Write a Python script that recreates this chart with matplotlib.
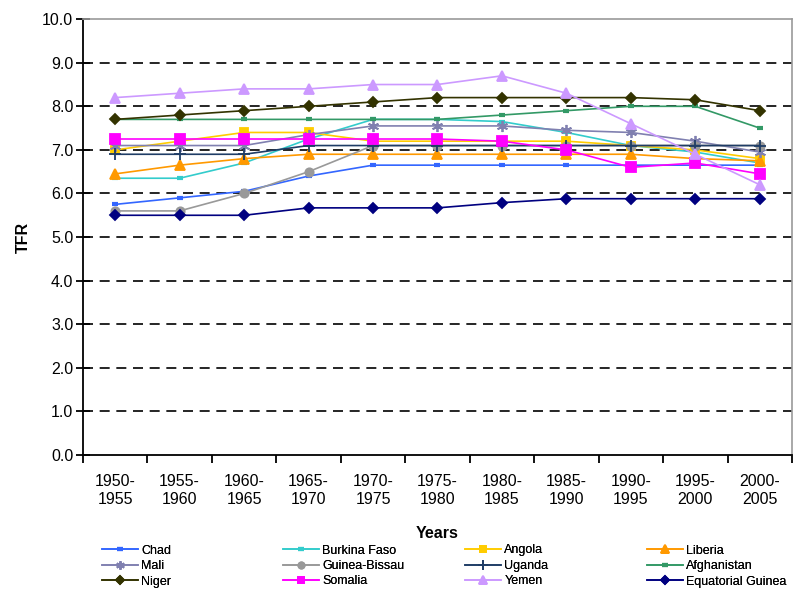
import matplotlib
matplotlib.use("Agg")
import matplotlib.pyplot as plt
import numpy as np

plt.rcParams["font.family"] = ["Liberation Sans", "DejaVu Sans"]

periods = ["1950-\n1955", "1955-\n1960", "1960-\n1965", "1965-\n1970",
           "1970-\n1975", "1975-\n1980", "1980-\n1985", "1985-\n1990",
           "1990-\n1995", "1995-\n2000", "2000-\n2005"]

chad = [5.75, 5.9, 6.05, 6.4, 6.65, 6.65, 6.65, 6.65, 6.65, 6.65, 6.65]
burkina_faso = [6.35, 6.35, 6.7, 7.25, 7.7, 7.7, 7.65, 7.4, 7.1, 6.95, 6.7]
angola = [7.0, 7.2, 7.4, 7.4, 7.2, 7.2, 7.2, 7.2, 7.1, 7.0, 6.8]
liberia = [6.45, 6.65, 6.8, 6.9, 6.9, 6.9, 6.9, 6.9, 6.9, 6.8, 6.75]
mali = [7.1, 7.1, 7.1, 7.35, 7.55, 7.55, 7.55, 7.45, 7.4, 7.2, 6.95]
guinea_bissau = [5.6, 5.6, 6.0, 6.5, 7.1, 7.1, 7.1, 7.1, 7.1, 7.1, 7.1]
uganda = [6.9, 6.9, 6.9, 7.1, 7.1, 7.1, 7.1, 7.1, 7.1, 7.1, 7.1]
afghanistan = [7.7, 7.7, 7.7, 7.7, 7.7, 7.7, 7.8, 7.9, 8.0, 8.0, 7.5]
niger = [7.7, 7.8, 7.9, 8.0, 8.1, 8.2, 8.2, 8.2, 8.2, 8.15, 7.9]
somalia = [7.25, 7.25, 7.25, 7.25, 7.25, 7.25, 7.2, 7.0, 6.6, 6.7, 6.45]
yemen = [8.2, 8.3, 8.4, 8.4, 8.5, 8.5, 8.7, 8.3, 7.6, 6.9, 6.2]
equatorial_guinea = [5.5, 5.5, 5.5, 5.67, 5.67, 5.67, 5.79, 5.88, 5.88, 5.88, 5.88]

asterisk = (6, 2, 0)
series = [
    ("Chad", chad, "#3366FF", "_", 5),
    ("Burkina Faso", burkina_faso, "#33CCCC", "_", 5),
    ("Angola", angola, "#FFCC00", "s", 6),
    ("Liberia", liberia, "#FF9900", "^", 7.5),
    ("Mali", mali, "#8080B0", asterisk, 8),
    ("Guinea-Bissau", guinea_bissau, "#999999", "o", 6),
    ("Uganda", uganda, "#1F3D66", "+", 9),
    ("Afghanistan", afghanistan, "#339966", "_", 5),
    ("Niger", niger, "#333300", "D", 5.5),
    ("Somalia", somalia, "#FF00FF", "s", 6.5),
    ("Yemen", yemen, "#CC99FF", "^", 7.5),
    ("Equatorial Guinea", equatorial_guinea, "#000080", "D", 5.5),
]

fig = plt.figure(figsize=(7.94, 5.89), dpi=100)
ax = fig.add_axes([0.1045, 0.2275, 0.893, 0.740])
x = np.arange(len(periods))

handles = {}
for name, vals, color, marker, ms in series:
    mew = 3 if marker == "_" else 1.3
    (h,) = ax.plot(x, vals, color=color, lw=1.2, marker=marker, ms=ms,
                   mec=color, mfc=color, mew=mew, label=name)
    handles[name] = h

ax.set_xlim(-0.5, len(periods) - 0.5)
ax.set_ylim(0, 10)
ax.set_yticks(np.arange(0, 10.1, 1.0))
ax.set_yticklabels([f"{v:.1f}" for v in np.arange(0, 10.1, 1.0)])
ax.set_xticks(x)
ax.set_xticklabels(periods)
ax.set_xticks(np.arange(-0.5, len(periods)), minor=True)
ax.tick_params(axis="x", which="major", length=0, pad=14, labelsize=11.5)
ax.tick_params(axis="x", which="minor", length=6, width=1.3, direction="out")
ax.tick_params(axis="y", length=10, width=1.3, direction="inout",
               labelsize=11.5, pad=2)

for v in np.arange(1, 10):
    ax.axhline(v, color="black", lw=1.2, ls=(0, (6, 4)), zorder=0)

for side in ("left", "bottom"):
    ax.spines[side].set_linewidth(1.3)
for side in ("top", "right"):
    ax.spines[side].set_color("#999999")
    ax.spines[side].set_linewidth(1.2)

ax.set_ylabel("TFR", fontsize=11.5, fontweight="bold", labelpad=8)
ax.set_xlabel("Years", fontsize=11.5, fontweight="bold", labelpad=14)

# one small legend per column so the columns sit at fixed positions
columns = [["Chad", "Mali", "Niger"],
           ["Burkina Faso", "Guinea-Bissau", "Somalia"],
           ["Angola", "Uganda", "Yemen"],
           ["Liberia", "Afghanistan", "Equatorial Guinea"]]
col_x = [102, 283, 465, 647]
for names, px in zip(columns, col_x):
    leg = fig.legend([handles[n] for n in names], names, loc="center left",
                     bbox_to_anchor=(px / 794, 1 - 566 / 589), frameon=False,
                     fontsize=9, handlelength=2.9, handletextpad=0.25,
                     labelspacing=0.28, borderpad=0, borderaxespad=0,
                     markerscale=0.75)
    fig.add_artist(leg)

fig.savefig("out.png", dpi=100)
